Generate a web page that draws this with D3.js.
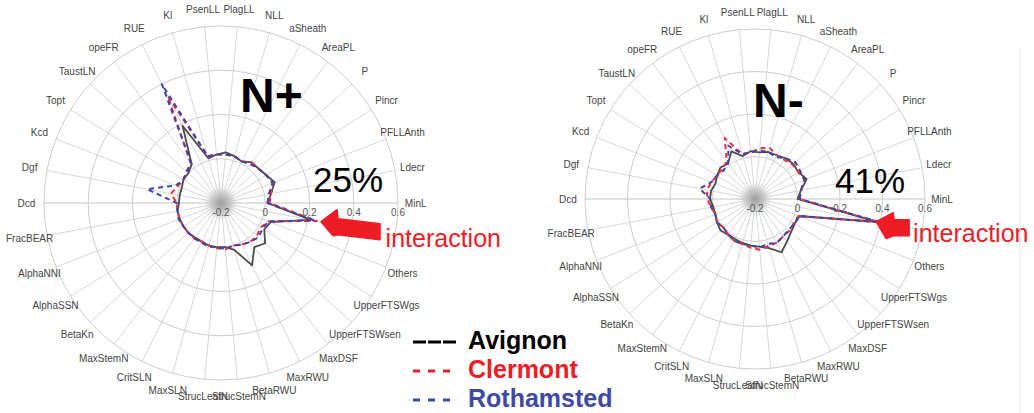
<!DOCTYPE html>
<html><head><meta charset="utf-8">
<script src="https://cdn.jsdelivr.net/npm/d3@7"></script>
<style>
html,body{margin:0;padding:0;background:#fff;}
svg{display:block;font-family:"Liberation Sans",Arial,sans-serif;}
</style></head>
<body>
<svg id="chart" width="1034" height="413"></svg>
<script>
// ---- data ----
const categories = ["MinL","Ldecr","PFLLAnth","Pincr","P","AreaPL","aSheath","NLL","PlagLL","PsenLL","Kl","RUE","opeFR","TaustLN","Topt","Kcd","Dgf","Dcd","FracBEAR","AlphaNNI","AlphaSSN","BetaKn","MaxStemN","CritSLN","MaxSLN","StrucLeafN","StrucStemN","BetaRWU","MaxRWU","MaxDSF","UpperFTSWsen","UpperFTSWgs","Others","interaction"];
const sites = ["Avignon","Clermont","Rothamsted"];
const radialTicks = [-0.2, 0, 0.2, 0.4, 0.6];
const gridRings = [0, 0.2, 0.4, 0.6];

const nPlusAvignon    = [0.01,0.03,0.06,0.04,0.03,0.03,0.01,0.02,0.03,0.02,0.01,0.19,0.02,0.0,0.0,-0.01,-0.01,-0.01,0.0,0.0,0.0,0.0,-0.005,-0.005,0.0,0.0,0.0,0.02,0.115,0.05,0.07,0.03,0.04,0.21];
const nPlusClermont   = [0.02,0.03,0.05,0.04,0.03,0.03,0.01,0.02,0.02,0.02,0.02,0.34,0.03,0.01,0.0,0.01,0.03,0.0,0.0,0.0,0.0,0.0,0.0,-0.005,0.0,0.005,0.01,0.0,0.01,0.02,0.02,0.01,0.03,0.24];
const nPlusRothamsted = [0.01,0.02,0.05,0.04,0.03,0.02,0.01,0.02,0.02,0.02,0.02,0.40,0.02,0.01,0.0,0.02,0.14,0.0,0.0,0.005,0.0,0.0,0.0,0.0,0.005,0.0,0.01,0.0,0.01,0.02,0.03,0.02,0.03,0.23];

const nMinusAvignon    = [0.0,0.02,0.06,0.04,0.045,0.04,0.03,0.03,0.02,0.026,0.01,0.05,0.01,0.02,0.01,0.0,0.01,0.012,0.0,0.0,0.01,0.02,0.01,0.01,0.015,0.02,0.025,0.04,0.08,0.05,0.03,0.02,0.025,0.38];
const nMinusClermont   = [0.01,0.02,0.05,0.04,0.04,0.03,0.03,0.05,0.04,0.02,0.02,0.12,0.02,0.01,0.01,0.02,0.03,0.025,0.01,0.0,0.01,0.0,0.01,0.02,0.02,0.03,0.04,0.03,0.03,0.02,0.02,0.015,0.02,0.40];
const nMinusRothamsted = [0.01,0.02,0.05,0.05,0.057,0.04,0.02,0.03,0.03,0.02,0.02,0.08,0.01,0.0,0.01,0.02,0.065,0.01,0.01,0.0,0.01,0.0,0.01,0.02,0.02,0.02,0.03,0.02,0.03,0.02,0.015,0.02,0.02,0.40];

const panels = [
  {title:"N+", pct:"25%", series:[nPlusAvignon,nPlusClermont,nPlusRothamsted], cx:221, cy:203, R:177, arrowV:0.26, titleDx:19, titleDy:-91, pctDx:92, pctDy:-11,
   arrow:[[0,0],[16,-12],[17,-3],[59,2],[59,18],[17,13],[12,14]]},
  {title:"N-", pct:"41%", series:[nMinusAvignon,nMinusClermont,nMinusRothamsted], cx:755, cy:199, R:170, arrowV:0.38, titleDx:-2, titleDy:-82, pctDx:80, pctDy:-6,
   arrow:[[0,0],[17,-9],[18,-2],[33,-2],[33,14],[18,14],[10,17]]}
];

const colors = ["#4a4a4a","#e8303a","#3b44b0"];
const dashes = [null,"5,4","5,4"];
const legendColors = ["#000","#ee1c25","#3c4aa6"];

// ---- drawing ----
const svg = d3.select("#chart");
const defs = svg.append("defs");
const grad = defs.append("radialGradient").attr("id","blob");
grad.append("stop").attr("offset","0%").attr("stop-color","#9a9a9a").attr("stop-opacity",0.95);
grad.append("stop").attr("offset","55%").attr("stop-color","#b5b5b5").attr("stop-opacity",0.6);
grad.append("stop").attr("offset","100%").attr("stop-color","#d0d0d0").attr("stop-opacity",0);

const angle = d3.scaleLinear().domain([0, categories.length]).range([0, 2*Math.PI]);

panels.forEach(p => {
  const r = d3.scaleLinear().domain([-0.2, 0.6]).range([0, p.R]);
  const g = svg.append("g").attr("transform",`translate(${p.cx},${p.cy})`);
  const pt = (i, v) => [r(v)*Math.cos(angle(i)), -r(v)*Math.sin(angle(i))];

  // spokes
  g.selectAll("line.spoke").data(categories).join("line").attr("class","spoke")
    .attr("x1",0).attr("y1",0)
    .attr("x2",(d,i)=>pt(i,0.6)[0]).attr("y2",(d,i)=>pt(i,0.6)[1])
    .attr("stroke",(d,i)=> (i===0||i===17)?"#bdbdbd":"#d2d2d2").attr("stroke-width",0.9);
  // rings
  g.selectAll("circle.ring").data(gridRings).join("circle").attr("class","ring")
    .attr("r",d=>r(d)).attr("fill","none").attr("stroke","#cdcdcd").attr("stroke-width",1);
  // center blob
  g.append("circle").attr("r", p.R*0.1).attr("fill","url(#blob)");

  // tick labels
  g.selectAll("text.tick").data(radialTicks).join("text").attr("class","tick")
    .attr("x",d=>r(d)).attr("y",13).attr("text-anchor","middle")
    .attr("font-size",10).attr("fill","#555").text(d=>d3.format(".1f")(d).replace("0.0","0").replace("−","-"));

  // axis labels
  g.selectAll("text.cat").data(categories.slice(0, categories.length-1)).join("text").attr("class","cat")
    .attr("x",(d,i)=>1.1*p.R*Math.cos(angle(i)))
    .attr("y",(d,i)=>-1.1*p.R*Math.sin(angle(i)))
    .attr("dy","0.35em").attr("text-anchor","middle")
    .attr("font-size",10).attr("fill","#444").text(d=>d);

  // series
  const line = d3.lineRadial()
    .angle((d,i)=> Math.PI/2 - angle(i))
    .radius(d=>r(d))
    .curve(d3.curveLinearClosed);
  p.series.forEach((s,k)=>{
    g.append("path").attr("d", line(s)).attr("fill","none")
      .attr("stroke",colors[k]).attr("stroke-width",k===0?1.8:2)
      .attr("stroke-dasharray",dashes[k]).attr("stroke-linejoin","round");
  });

  // title and percentage
  g.append("text").attr("x",p.titleDx).attr("y",p.titleDy).attr("font-size",48).attr("font-weight","bold")
    .attr("fill","#000").text(p.title);
  g.append("text").attr("x",p.pctDx).attr("y",p.pctDy).attr("font-size",35)
    .attr("fill","#000").text(p.pct);

  // arrow annotation pointing at interaction
  const iInt = categories.length-1;
  const tip = pt(iInt, p.arrowV);
  g.append("path").attr("d", d3.line()(p.arrow.map(q=>[tip[0]+q[0], tip[1]+q[1]])) + "Z")
    .attr("fill","#ee1c25").attr("stroke","#ee1c25").attr("stroke-width",1.5).attr("stroke-linejoin","round");
  g.append("text").attr("x",0.93*p.R).attr("y",0.25*p.R).attr("font-size",25)
    .attr("fill","#ee1c25").text(categories[iInt]);
});

// legend
const lg = svg.append("g").attr("transform","translate(413,0)");
const legendY = [345, 374, 403];
sites.forEach((s,k)=>{
  lg.append("line").attr("x1",0).attr("x2",45).attr("y1",legendY[k]-3).attr("y2",legendY[k]-3)
    .attr("stroke",legendColors[k]).attr("stroke-width",3)
    .attr("stroke-dasharray", k===0 ? "13,2" : "7,8");
  lg.append("text").attr("x",55).attr("y",legendY[k]+4).attr("font-size",25).attr("font-weight","bold")
    .attr("fill",legendColors[k]).text(s);
});

// right panel border
svg.append("line").attr("x1",1020).attr("x2",1020).attr("y1",48).attr("y2",413)
  .attr("stroke","#e2e2e2").attr("stroke-width",1);
</script>
</body></html>
